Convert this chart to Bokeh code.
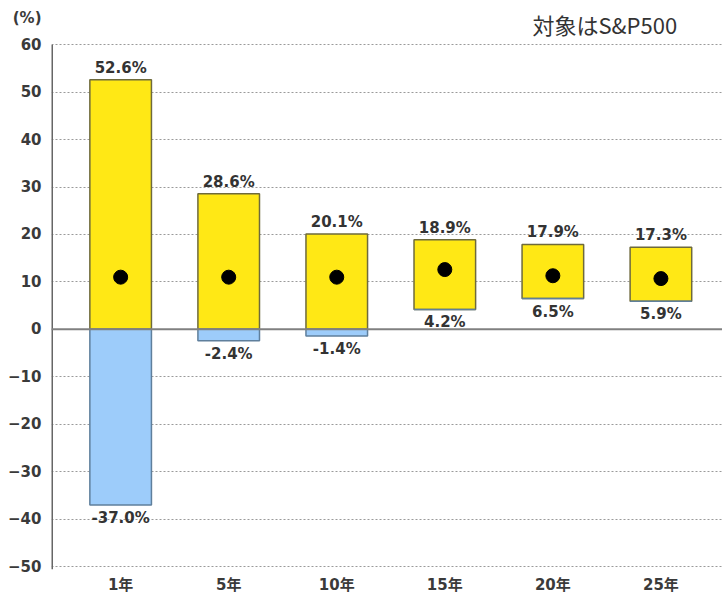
from bokeh.plotting import figure
from bokeh.models import Range1d, FixedTicker, ColumnDataSource, Span, Label
from bokeh.core.properties import value
from bokeh.embed import file_html
from bokeh.resources import INLINE

categories = ["1年", "5年", "10年", "15年", "20年", "25年"]
max_ret = [52.6, 28.6, 20.1, 18.9, 17.9, 17.3]
min_ret = [-37.0, -2.4, -1.4, 4.2, 6.5, 5.9]
avg_ret = [11.0, 11.0, 11.0, 12.6, 11.3, 10.7]
y_ticks = [-50, -40, -30, -20, -10, 0, 10, 20, 30, 40, 50, 60]
unit_label = "(%)"
caption = "対象はS&P500"

FONT = "DejaVu Sans, Noto Sans CJK JP"

xs = list(range(len(categories)))
src = ColumnDataSource(dict(
    x=xs,
    top_y=max_ret,
    bot_y=[m if m > 0 else 0 for m in min_ret],
    neg_top=[0 if m < 0 else m for m in min_ret],
    neg_bot=min_ret,
    avg=avg_ret,
    max_lbl=[f"{v:.1f}%" for v in max_ret],
    min_lbl=[f"{v:.1f}%" for v in min_ret],
    min_y=min_ret,
))

Y_LO, Y_HI = -50.6, 69.3
X_LO, X_HI = -0.64, 5.57
UNIT_POS = 65.6  # where the "(%)" unit label sits on the y axis

p = figure(width=722, height=597, output_backend="svg", toolbar_location=None,
           x_range=Range1d(X_LO, X_HI), y_range=Range1d(Y_LO, Y_HI),
           min_border_left=51, min_border_right=0, min_border_top=0,
           min_border_bottom=28)
p.outline_line_color = None
p.background_fill_color = "white"
p.border_fill_color = "white"

p.xgrid.visible = False
p.ygrid.ticker = FixedTicker(ticks=y_ticks)
p.ygrid.grid_line_color = "#9a9a9a"
p.ygrid.grid_line_dash = "2 2"
p.ygrid.grid_line_width = 1

# y axis: numeric ticks plus the unit label as an extra tick at the top
p.yaxis.ticker = FixedTicker(ticks=y_ticks + [UNIT_POS])
p.yaxis.major_label_overrides = {UNIT_POS: unit_label}
p.yaxis.axis_line_color = None
p.yaxis.major_tick_out = 0
p.yaxis.major_tick_in = 0
p.yaxis.major_tick_line_color = None
p.yaxis.minor_tick_line_color = None
p.yaxis.major_label_standoff = 10
p.yaxis.major_label_text_font = FONT
p.yaxis.major_label_text_font_size = "15px"
p.yaxis.major_label_text_font_style = "bold"
p.yaxis.major_label_text_color = "#3a3a3a"

# visible y-axis line from the bottom of the frame up to the top tick
p.segment(x0=[X_LO], y0=[Y_LO], x1=[X_LO], y1=[max(y_ticks)],
          line_color="#666666", line_width=3)

p.xaxis.ticker = FixedTicker(ticks=xs)
p.xaxis.major_label_overrides = {i: c for i, c in zip(xs, categories)}
p.xaxis.axis_line_color = None
p.xaxis.major_tick_line_color = None
p.xaxis.minor_tick_line_color = None
p.xaxis.major_tick_out = 0
p.xaxis.major_label_standoff = 6
p.xaxis.major_label_text_font = FONT
p.xaxis.major_label_text_font_size = "15px"
p.xaxis.major_label_text_font_style = "bold"
p.xaxis.major_label_text_color = "#3a3a3a"

W = 0.57
p.vbar(x="x", top="top_y", bottom="bot_y", width=W, source=src,
       fill_color="#FFE815", line_color="#6e6a3c", line_width=1.5)
p.vbar(x="x", top="neg_top", bottom="neg_bot", width=W, source=src,
       fill_color="#9DCCFA", line_color="#5f7f9c", line_width=1.5)

p.add_layout(Span(location=0, dimension="width", line_color="#808080", line_width=2))

p.scatter(x="x", y="avg", source=src, size=14, fill_color="black", line_color="black")

p.text(x="x", y="top_y", text="max_lbl", source=src, text_align="center",
       text_baseline="bottom", y_offset=-3, text_font=value(FONT),
       text_font_size="15px", text_font_style="bold", text_color="#333333")
p.text(x="x", y="min_y", text="min_lbl", source=src, text_align="center",
       text_baseline="top", y_offset=4, text_font=value(FONT),
       text_font_size="15px", text_font_style="bold", text_color="#333333")

# caption at the top right
p.add_layout(Label(x=5.15, y=64.4, text=caption, text_align="right",
                   text_baseline="alphabetic", text_font="Noto Sans CJK JP",
                   text_font_size="22px", text_color="#333333"))

open("out.html", "w").write(file_html(p, INLINE))
